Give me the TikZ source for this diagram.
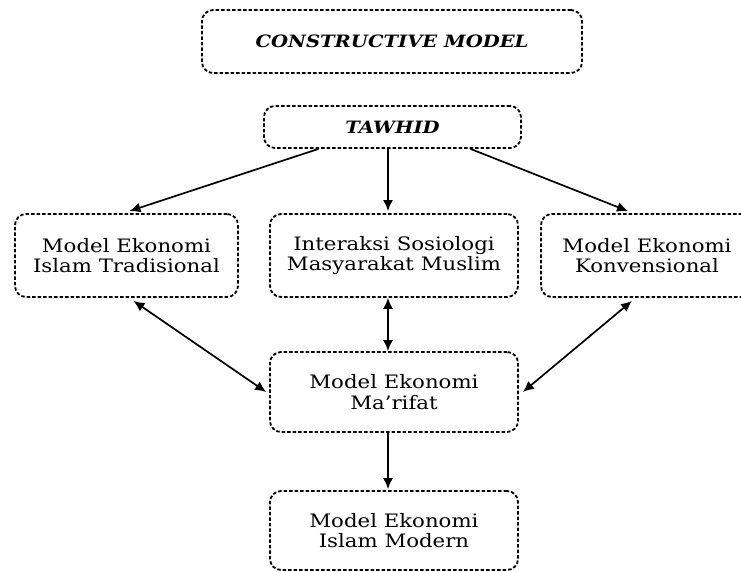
\documentclass[tikz,border=0pt]{standalone}
\usepackage{fontspec}
\setmainfont[FakeStretch=1.15]{DejaVu Serif}
\usepackage{tikz}
\usetikzlibrary{arrows.meta, positioning, calc}

\begin{document}
\begin{tikzpicture}[
  x=1pt, y=-1pt,
  box/.style = {draw, line width=1.8pt, dash pattern=on 3.5pt off 2pt,
    rounded corners=11pt, align=center, inner sep=0pt,
    font=\fontsize{18.5}{20.5}\selectfont},
  title/.style = {box, font=\fontsize{17}{20}\selectfont\bfseries\itshape},
  arrow/.style = {line width=1.7pt, -{Latex[length=11pt, width=10pt]}},
  twoway/.style = {line width=1.7pt, {Latex[length=11pt, width=10pt]}-{Latex[length=11pt, width=10pt]}}
]
\useasboundingbox (0,0) rectangle (741,572);

% Title
\node[title, minimum width=380pt, minimum height=63pt] (constr) at (392,41.5) {CONSTRUCTIVE MODEL};

% Top level
\node[title, minimum width=257pt, minimum height=42pt] (tawhid) at (392.5,127) {TAWHID};

% Middle row
\node[box, minimum width=223pt, minimum height=83pt] (tradisional) at (126.5,255.5) {Model Ekonomi\\Islam Tradisional};
\node[box, minimum width=248pt, minimum height=83pt] (sosiologi) at (394,255.5) {Interaksi Sosiologi\\Masyarakat Muslim};
\node[box, minimum width=212pt, minimum height=83pt] (konvensional) at (647,255.5) {Model Ekonomi\\Konvensional};

% Ma'rifat and Modern
\node[box, minimum width=248pt, minimum height=80pt] (marifat) at (394,392) {Model Ekonomi\\Ma’rifat};
\node[box, minimum width=248pt, minimum height=79pt] (modern) at (394,530.5) {Model Ekonomi\\Islam Modern};

% Arrows from TAWHID
\draw[arrow] ($(tawhid.south)+(-74,0)$) -- ($(tradisional.north)+(3,-2)$);
\draw[arrow] ($(tawhid.south)+(-4.5,0)$) -- ($(sosiologi.north)+(-6,-2)$);
\draw[arrow] ($(tawhid.south)+(78,0)$) -- ($(konvensional.north)+(-19,-2)$);

% Two-way links to Ma'rifat
\draw[twoway] ($(tradisional.south)+(7,3)$) -- ($(marifat.west)+(-3,0)$);
\draw[twoway] ($(sosiologi.south)+(-6,0)$) -- ($(marifat.north)+(-6,0)$);
\draw[twoway] ($(konvensional.south)+(-15,3)$) -- ($(marifat.east)+(4,0)$);

% Down to Modern
\draw[arrow] ($(marifat.south)+(-6,0)$) -- ($(modern.north)+(-6,-1)$);

\end{tikzpicture}
\end{document}
